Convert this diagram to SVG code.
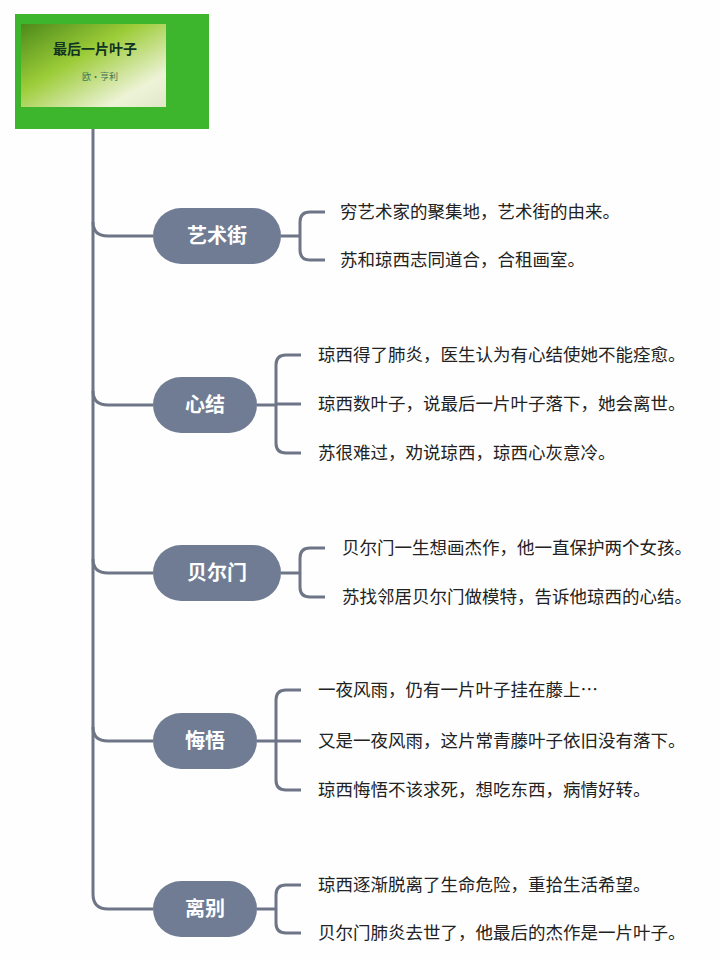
<svg xmlns="http://www.w3.org/2000/svg" width="720" height="961" viewBox="0 0 720 961">
<defs>
<style>
.ln{fill:none;stroke:#6d7587;stroke-width:3}
.nd{fill:#6f7c93}
.nt{font-family:"Noto Sans CJK SC",sans-serif;font-size:20px;font-weight:bold;fill:#fff;text-anchor:middle}
.lt{font-family:"Noto Sans CJK SC",sans-serif;font-size:17.5px;fill:#222}
</style>
<linearGradient id="lf" x1="0" y1="0" x2="1" y2="1">
<stop offset="0" stop-color="#4c8a1a"/><stop offset="0.4" stop-color="#9ccc38"/><stop offset="0.8" stop-color="#eef3d8"/><stop offset="1" stop-color="#dfe8c8"/>
</linearGradient>
</defs>
<rect width="720" height="961" fill="#fefefe"/>
<g id="root">
<rect x="15" y="14" width="194" height="115" fill="#3db52c"/>
<rect x="21" y="24" width="145" height="83" fill="url(#lf)"/>
<text x="95" y="54" font-family="Noto Sans CJK SC,serif" font-size="14" font-weight="bold" fill="#132" text-anchor="middle">最后一片叶子</text>
<text x="100" y="80" font-family="Noto Sans CJK SC,serif" font-size="9" fill="#475" text-anchor="middle">欧·亨利</text>
</g>
<g id="connectors">
<path class="ln" d="M93 129 V894 Q93 909 108 909 H153"/>
<path class="ln" d="M93 222 Q93 236 108 236 H153"/>
<path class="ln" d="M93 391 Q93 405 108 405 H153"/>
<path class="ln" d="M93 559 Q93 573 108 573 H153"/>
<path class="ln" d="M93 727 Q93 741 108 741 H153"/>
<path class="ln" d="M281 236 H300 M325 212 H310 Q300 212 300 222 V250 Q300 260 310 260 H325"/>
<path class="ln" d="M257 405 H276 M301 355 H286 Q276 355 276 365 V443 Q276 453 286 453 H301 M276 404 H301"/>
<path class="ln" d="M281 573 H300 M325 548 H310 Q300 548 300 558 V587 Q300 597 310 597 H325"/>
<path class="ln" d="M257 741 H276 M301 690 H286 Q276 690 276 700 V780 Q276 790 286 790 H301 M276 741 H301"/>
<path class="ln" d="M257 909 H276 M301 885 H286 Q276 885 276 895 V923 Q276 933 286 933 H301"/>
</g>
<g id="n1"><rect class="nd" x="153" y="208" width="128" height="56" rx="28"/><text class="nt" x="217" y="243">艺术街</text>
<text class="lt" x="340" y="218">穷艺术家的聚集地，艺术街的由来。</text><text class="lt" x="340" y="266">苏和琼西志同道合，合租画室。</text></g>
<g id="n2"><rect class="nd" x="153" y="377" width="104" height="56" rx="28"/><text class="nt" x="205" y="412">心结</text>
<text class="lt" x="318" y="361">琼西得了肺炎，医生认为有心结使她不能痊愈。</text><text class="lt" x="318" y="410">琼西数叶子，说最后一片叶子落下，她会离世。</text><text class="lt" x="318" y="459">苏很难过，劝说琼西，琼西心灰意冷。</text></g>
<g id="n3"><rect class="nd" x="153" y="545" width="128" height="56" rx="28"/><text class="nt" x="217" y="580">贝尔门</text>
<text class="lt" x="342" y="554">贝尔门一生想画杰作，他一直保护两个女孩。</text><text class="lt" x="342" y="603">苏找邻居贝尔门做模特，告诉他琼西的心结。</text></g>
<g id="n4"><rect class="nd" x="153" y="713" width="104" height="56" rx="28"/><text class="nt" x="205" y="748">悔悟</text>
<text class="lt" x="318" y="696">一夜风雨，仍有一片叶子挂在藤上…</text><text class="lt" x="318" y="747">又是一夜风雨，这片常青藤叶子依旧没有落下。</text><text class="lt" x="318" y="796">琼西悔悟不该求死，想吃东西，病情好转。</text></g>
<g id="n5"><rect class="nd" x="153" y="881" width="104" height="56" rx="28"/><text class="nt" x="205" y="916">离别</text>
<text class="lt" x="318" y="891">琼西逐渐脱离了生命危险，重拾生活希望。</text><text class="lt" x="318" y="939">贝尔门肺炎去世了，他最后的杰作是一片叶子。</text></g>
</svg>
